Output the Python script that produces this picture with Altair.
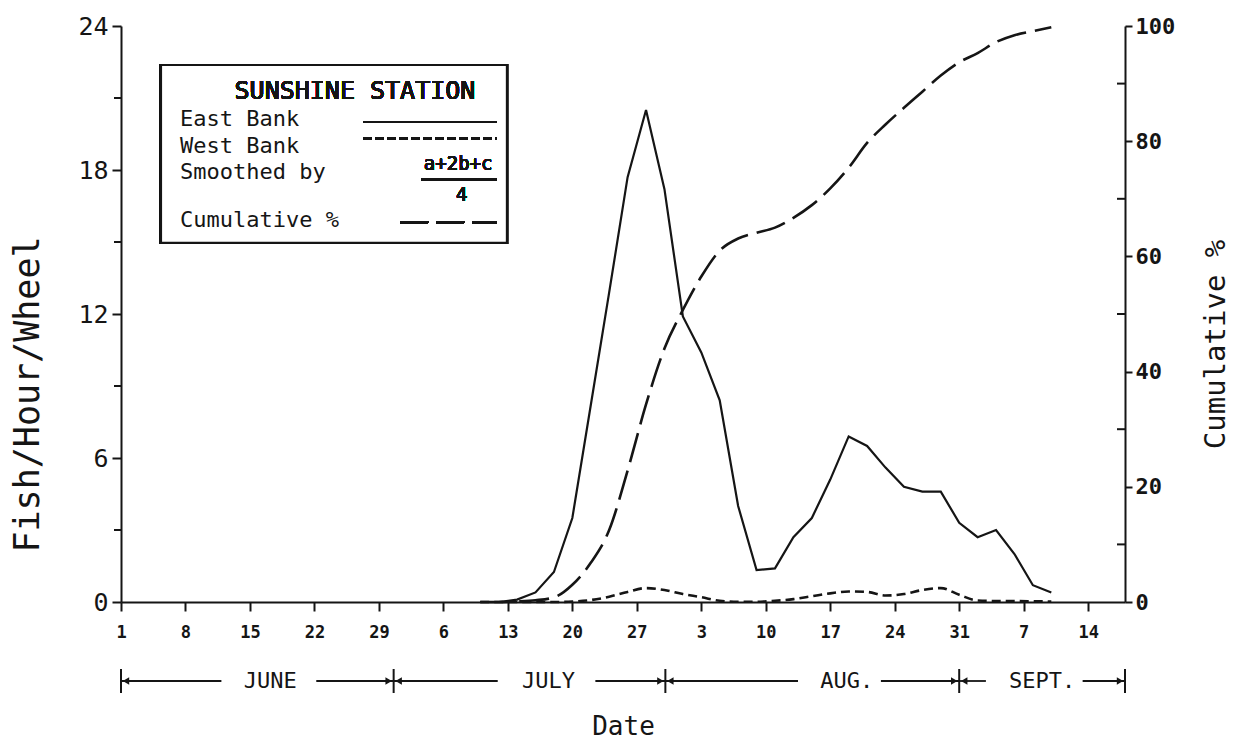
import json
import altair as alt
import pandas as pd

FONT = "DejaVu Sans Mono"
INK = "#151515"

# ---- data (day 0 = June 1) ----
days = [39, 41, 43, 45, 47, 49, 51, 53, 55, 57, 59, 61, 63, 65, 67, 69,
        71, 73, 75, 77, 79, 81, 83, 85, 87, 89, 91, 93, 95, 97, 99, 101]
east_bank = [0, 0, 0.1, 0.4, 1.25, 3.5, 8.2, 12.9, 17.7, 20.5, 17.2, 11.9, 10.4, 8.4, 4.0, 1.33,
             1.4, 2.7, 3.5, 5.1, 6.9, 6.5, 5.6, 4.8, 4.6, 4.6, 3.3, 2.7, 3.0, 2.0, 0.7, 0.4]
west_bank = [0, 0, 0, 0, 0, 0.02, 0.08, 0.22, 0.42, 0.58, 0.5, 0.33, 0.2, 0.05, 0.01, 0.01,
             0.05, 0.12, 0.24, 0.36, 0.44, 0.42, 0.27, 0.33, 0.5, 0.58, 0.3, 0.06, 0.04, 0.04, 0.03, 0.02]
cumulative = [0, 0, 0.1, 0.3, 0.8, 3.0, 6.8, 12.5, 22.8, 34.3, 44.0, 50.7, 56.5, 61.0, 63.1, 64.1,
              65.0, 66.7, 68.9, 71.8, 75.4, 79.7, 82.9, 85.8, 88.6, 91.4, 93.7, 95.3, 97.2, 98.4, 99.1, 99.8]

week_days = [0, 7, 14, 21, 28, 35, 42, 49, 56, 63, 70, 77, 84, 91, 98, 105]
week_labels = ["1", "8", "15", "22", "29", "6", "13", "20", "27", "3", "10", "17", "24", "31", "7", "14"]

left_ticks = [0, 6, 12, 18, 24]
left_minor = [3, 9, 15, 21]
right_ticks = [0, 20, 40, 60, 80, 100]
right_minor = [10, 30, 50, 70, 90]

month_names = ["JUNE", "JULY", "AUG.", "SEPT."]
month_label_day = [16.2, 46.4, 78.8, 100.0]
month_start = [0, 29.6, 59.1, 91.0]
month_end = [29.6, 59.1, 91.0, 109.0]
shaft_left_to = [10.9, 40.9, 73.5, 93.9]
shaft_right_from = [21.2, 51.5, 82.5, 104.4]
month_bounds = [0, 29.6, 59.1, 91.0, 109.0]

legend_labels = ["East Bank", "West Bank", "Smoothed by", "Cumulative %"]
legend_label_y = [20.13, 19.0, 17.9, 15.9]
legend_label_x = [6.4, 6.4, 6.4, 6.4]

X_DOMAIN = [0, 109]
YL_DOMAIN = [0, 24]
YR_DOMAIN = [0, 100]

df = pd.DataFrame({"day": days, "east": east_bank, "west": west_bank, "cum": cumulative})
months = pd.DataFrame({"name": month_names, "mid": month_label_day, "start": month_start,
                       "end": month_end, "lto": shaft_left_to, "rfrom": shaft_right_from})
bounds = pd.DataFrame({"b": month_bounds})
lminor = pd.DataFrame({"v": left_minor})
rminor = pd.DataFrame({"v": right_minor})
leg = pd.DataFrame({"t": legend_labels, "x": legend_label_x, "y": legend_label_y})

xs = alt.Scale(domain=X_DOMAIN, nice=False, zero=False)
yl = alt.Scale(domain=YL_DOMAIN, nice=False, zero=False)
yr = alt.Scale(domain=YR_DOMAIN, nice=False, zero=False)

label_js = json.dumps(week_labels)
xaxis = alt.Axis(values=week_days, labelExpr=f"{label_js}[round(datum.value/7)]",
                 title="Date", titleFont=FONT, titleFontSize=26, titleFontWeight="normal",
                 titleY=124, titleBaseline="middle",
                 labelFont=FONT, labelFontSize=17, labelFontWeight="bold", labelPadding=13,
                 tickSize=9, labelFlush=False, labelOverlap=False, grid=False)
left_axis = alt.Axis(values=left_ticks, title="Fish/Hour/Wheel", titleAngle=270, titleX=-94, titleY=368,
                     titleAlign="center", titleBaseline="middle", titleFont=FONT, titleFontSize=35,
                     titleFontWeight="normal", labelFont=FONT, labelFontSize=25, tickSize=9,
                     labelPadding=4, grid=False, format="d")
right_axis = alt.Axis(orient="right", values=right_ticks, title="Cumulative %", titleAngle=270,
                      titleX=90, titleY=318, titleAlign="center", titleBaseline="middle",
                      titleFont=FONT, titleFontSize=29, titleFontWeight="normal",
                      labelFont=FONT, labelFontSize=22, labelFontWeight="bold", tickSize=7,
                      labelPadding=3, grid=False, format="d")

base = alt.Chart(df)
east_line = base.mark_line(color=INK, strokeWidth=2.2).encode(
    x=alt.X("day:Q", scale=xs, axis=xaxis), y=alt.Y("east:Q", scale=yl, axis=left_axis))
west_line = base.mark_line(color=INK, strokeWidth=2.6, strokeDash=[9, 5], interpolate="monotone").encode(
    x=alt.X("day:Q", scale=xs), y=alt.Y("west:Q", scale=yl))

left_minor_ticks = alt.Chart(lminor).mark_rule(color=INK, strokeWidth=2, x2Offset=-7).encode(
    x=alt.datum(0, scale=xs), x2=alt.datum(0), y=alt.Y("v:Q", scale=yl))

# legend box
box = alt.Chart(df).mark_rect(fill="white", stroke=INK, strokeWidth=2.2).encode(
    x=alt.datum(4.34, scale=xs), x2=alt.datum(41.9), y=alt.datum(22.375, scale=yl), y2=alt.datum(14.96))
box_title = alt.Chart(df).mark_text(text="SUNSHINE STATION", font=FONT, fontSize=25, color=INK,
                                     align="center", baseline="middle").encode(
    x=alt.datum(25.4, scale=xs), y=alt.datum(21.3, scale=yl))
box_labels = alt.Chart(leg).mark_text(font=FONT, fontSize=22, color=INK, align="left", baseline="middle").encode(
    x=alt.X("x:Q", scale=xs), y=alt.Y("y:Q", scale=yl), text="t:N")
sample_east = alt.Chart(df).mark_rule(color=INK, strokeWidth=2.2).encode(
    x=alt.datum(26.3, scale=xs), x2=alt.datum(40.8), y=alt.datum(20.0, scale=yl))
sample_west = alt.Chart(df).mark_rule(color=INK, strokeWidth=2.4, strokeDash=[8, 4]).encode(
    x=alt.datum(26.3, scale=xs), x2=alt.datum(40.8), y=alt.datum(19.3, scale=yl))
sample_cum = alt.Chart(df).mark_rule(color=INK, strokeWidth=2.4, strokeDash=[28, 8]).encode(
    x=alt.datum(30.3, scale=xs), x2=alt.datum(40.8), y=alt.datum(15.83, scale=yl))
frac_top = alt.Chart(df).mark_text(text="a+2b+c", font=FONT, fontSize=19, color=INK,
                                   align="center", baseline="middle").encode(
    x=alt.datum(36.6, scale=xs), y=alt.datum(18.25, scale=yl))
frac_bar = alt.Chart(df).mark_rule(color=INK, strokeWidth=2.2).encode(
    x=alt.datum(32.6, scale=xs), x2=alt.datum(40.8), y=alt.datum(17.62, scale=yl))
frac_bot = alt.Chart(df).mark_text(text="4", font=FONT, fontSize=19, color=INK,
                                   align="center", baseline="middle").encode(
    x=alt.datum(37.0, scale=xs), y=alt.datum(16.95, scale=yl))

# month brackets below the axis
ROW = 79
bars = alt.Chart(bounds).mark_rule(color=INK, strokeWidth=2, yOffset=ROW - 12, y2Offset=ROW + 12).encode(
    x=alt.X("b:Q", scale=xs), y=alt.datum(0, scale=yl), y2=alt.datum(0))
shaft_l = alt.Chart(months).mark_rule(color=INK, strokeWidth=1.8, yOffset=ROW).encode(
    x=alt.X("start:Q", scale=xs), x2="lto:Q", y=alt.datum(0, scale=yl))
shaft_r = alt.Chart(months).mark_rule(color=INK, strokeWidth=1.8, yOffset=ROW).encode(
    x=alt.X("rfrom:Q", scale=xs), x2="end:Q", y=alt.datum(0, scale=yl))
head_l = alt.Chart(months).mark_point(shape="triangle-left", filled=True, size=55, color=INK, opacity=1,
                                      xOffset=5, yOffset=ROW).encode(
    x=alt.X("start:Q", scale=xs), y=alt.datum(0, scale=yl))
head_r = alt.Chart(months).mark_point(shape="triangle-right", filled=True, size=55, color=INK, opacity=1,
                                      xOffset=-5, yOffset=ROW).encode(
    x=alt.X("end:Q", scale=xs), y=alt.datum(0, scale=yl))
month_txt = alt.Chart(months).mark_text(font=FONT, fontSize=22, color=INK, baseline="middle",
                                        align="center", yOffset=ROW).encode(
    x=alt.X("mid:Q", scale=xs), y=alt.datum(0, scale=yl), text="name:N")

left_group = alt.layer(east_line, west_line, left_minor_ticks, box, box_title, box_labels,
                       sample_east, sample_west, sample_cum, frac_top, frac_bar, frac_bot,
                       bars, shaft_l, shaft_r, head_l, head_r, month_txt)

cum_line = base.mark_line(color=INK, strokeWidth=2.6, strokeDash=[30, 9], interpolate="monotone").encode(
    x=alt.X("day:Q", scale=xs), y=alt.Y("cum:Q", scale=yr, axis=right_axis))
right_minor_ticks = alt.Chart(rminor).mark_rule(color=INK, strokeWidth=2, x2Offset=-8).encode(
    x=alt.datum(109, scale=xs), x2=alt.datum(109), y=alt.Y("v:Q", scale=yr))
right_group = alt.layer(cum_line, right_minor_ticks)

chart = alt.layer(left_group, right_group).resolve_scale(y="independent").properties(
    width=1004, height=576,
    autosize=alt.AutoSizeParams(type="none"),
    padding={"left": 113, "top": 18, "right": 105, "bottom": 144},
    background="white",
).configure_view(stroke=None).configure_axis(
    domainColor=INK, domainWidth=2, tickColor=INK, tickWidth=2, labelColor=INK, titleColor=INK,
)

chart.save("out.html", embed_options={"renderer": "svg", "actions": False})
